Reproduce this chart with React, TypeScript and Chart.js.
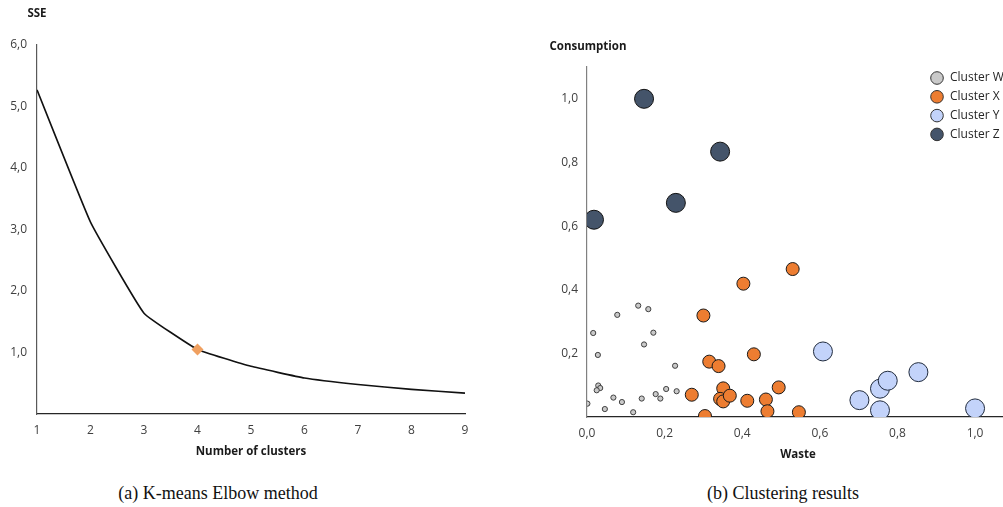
import React, { useEffect, useRef } from "react";
import { Chart, registerables } from "chart.js";

Chart.register(...registerables);

// ---- Elbow data ----
const clusterCounts = [1, 2, 3, 4, 5, 6, 7, 8, 9];
const sseValues = [5.27, 3.12, 1.64, 1.05, 0.775, 0.585, 0.48, 0.4, 0.34];
const elbowIndex = 3;

// ---- Clustering data ----
const clusterLabels = ["Cluster W", "Cluster X", "Cluster Y", "Cluster Z"];
const wWaste = [0.016, 0.078, 0.132, 0.158, 0.171, 0.147, 0.028, 0.227, 0.029, 0.034, 0.025, 0.001, 0.046, 0.068, 0.09, 0.119, 0.141, 0.177, 0.189, 0.204, 0.231];
const wCons = [0.264, 0.321, 0.35, 0.339, 0.265, 0.228, 0.195, 0.161, 0.099, 0.091, 0.084, 0.042, 0.025, 0.061, 0.047, 0.015, 0.058, 0.072, 0.058, 0.088, 0.081];
const xWaste = [0.53, 0.403, 0.3, 0.43, 0.315, 0.339, 0.27, 0.351, 0.343, 0.351, 0.368, 0.413, 0.461, 0.494, 0.465, 0.546, 0.304];
const xCons = [0.465, 0.419, 0.319, 0.197, 0.174, 0.16, 0.07, 0.09, 0.057, 0.049, 0.067, 0.051, 0.055, 0.093, 0.018, 0.015, 0.003];
const yWaste = [0.608, 0.702, 0.755, 0.775, 0.755, 0.854, 1.0];
const yCons = [0.206, 0.053, 0.089, 0.114, 0.021, 0.141, 0.027];
const zWaste = [0.018, 0.147, 0.229, 0.343];
const zCons = [0.62, 1.0, 0.673, 0.834];

const clusterColors = ["#C9C9C9", "#ED7D31", "#C3D3FA", "#44546A"];
const clusterBorders = ["#404040", "#1a1a1a", "#1f2a3d", "#111111"];
const clusterRadii = [2.6, 6.5, 9.5, 9.5];

const FONT = "'Open Sans', 'Noto Sans', sans-serif";
const fmt = (v: number) => v.toFixed(1).replace(".", ",");

function zip(a: number[], b: number[]) {
  return a.map((x, i) => ({ x, y: b[i] }));
}

const titlesPlugin = (items: { text: string; x: number; y: number }[]) => ({
  id: "axisTitles",
  afterDraw(chart: any) {
    const ctx = chart.ctx;
    ctx.save();
    ctx.font = `bold 11.5px ${FONT}`;
    ctx.fillStyle = "#1a1a1a";
    ctx.textAlign = "center";
    ctx.textBaseline = "middle";
    items.forEach((it) => ctx.fillText(it.text, it.x, it.y));
    ctx.restore();
  },
});

const legendPlugin = {
  id: "customLegend",
  afterDraw(chart: any) {
    const ctx = chart.ctx;
    ctx.save();
    ctx.font = `12px ${FONT}`;
    ctx.textBaseline = "middle";
    ctx.textAlign = "left";
    chart.data.datasets.forEach((ds: any, i: number) => {
      const cy = 78 + i * 18.8;
      const cx = 437;
      ctx.beginPath();
      ctx.arc(cx, cy, 6.3, 0, Math.PI * 2);
      ctx.fillStyle = clusterColors[i];
      ctx.fill();
      ctx.lineWidth = 1;
      ctx.strokeStyle = "#333";
      ctx.stroke();
      ctx.fillStyle = "#262626";
      ctx.fillText(ds.label, 450, cy);
    });
    ctx.restore();
  },
};

const noPad = (s: any) => {
  s.paddingLeft = 0;
  s.paddingRight = 0;
};

export default function App() {
  const c1 = useRef<HTMLCanvasElement>(null);
  const c2 = useRef<HTMLCanvasElement>(null);

  useEffect(() => {
    const ch1 = new Chart(c1.current!, {
      type: "line",
      data: {
        datasets: [
          {
            data: zip(clusterCounts, sseValues),
            borderColor: "#111",
            borderWidth: 1.6,
            tension: 0.1,
            pointStyle: "rectRot",
            pointRadius: sseValues.map((_, i) => (i === elbowIndex ? 6 : 0)),
            pointBackgroundColor: "#F0A060",
            pointBorderColor: "#F0A060",
            pointBorderWidth: 0,
          },
        ],
      },
      options: {
        responsive: false,
        animation: false,
        devicePixelRatio: 1,
        layout: { autoPadding: false, padding: { left: 0, top: 45, right: 25, bottom: 0 } },
        plugins: { legend: { display: false }, tooltip: { enabled: false } },
        scales: {
          x: {
            type: "linear",
            min: 1,
            max: 9,
            afterFit: (s: any) => { s.height = 56; noPad(s); },
            grid: { display: false, drawTicks: false },
            border: { display: true, color: "#262626", width: 1.2 },
            ticks: { stepSize: 1, padding: 9, color: "#404040", font: { family: FONT, size: 12 }, callback: (v: any) => String(v) },
          },
          y: {
            type: "linear",
            min: 0,
            max: 6,
            afterFit: (s: any) => { s.width = 37; },
            grid: { display: false, drawTicks: false },
            border: { display: true, color: "#595959", width: 1.2 },
            ticks: { stepSize: 1, padding: 10, color: "#404040", font: { family: FONT, size: 12 }, callback: (v: any) => (v === 0 ? "" : fmt(v)) },
          },
        },
      },
      plugins: [titlesPlugin([{ text: "SSE", x: 37, y: 14 }, { text: "Number of clusters", x: 251, y: 452 }])],
    } as any);

    const ch2 = new Chart(c2.current!, {
      type: "scatter",
      data: {
        datasets: [
          [wWaste, wCons],
          [xWaste, xCons],
          [yWaste, yCons],
          [zWaste, zCons],
        ].map((d, i) => ({
          label: clusterLabels[i],
          data: zip(d[0], d[1]),
          pointRadius: clusterRadii[i],
          pointBackgroundColor: clusterColors[i],
          pointBorderColor: clusterBorders[i],
          pointBorderWidth: 1,
          clip: 0,
        })),
      },
      options: {
        responsive: false,
        animation: false,
        devicePixelRatio: 1,
        layout: { autoPadding: false, padding: { left: 0, top: 67, right: 0, bottom: 0 } },
        plugins: { legend: { display: false }, tooltip: { enabled: false } },
        scales: {
          x: {
            type: "linear",
            min: 0,
            max: 1.072,
            afterFit: (s: any) => { s.height = 53; noPad(s); },
            grid: { display: false, drawTicks: false },
            border: { display: true, color: "#262626", width: 1.2 },
            ticks: { stepSize: 0.2, includeBounds: false, padding: 9, color: "#404040", font: { family: FONT, size: 12 }, callback: (v: any) => fmt(v) },
          },
          y: {
            type: "linear",
            min: 0,
            max: 1.1,
            afterFit: (s: any) => { s.width = 87; },
            grid: { display: false, drawTicks: false },
            border: { display: true, color: "#808080", width: 1.2 },
            ticks: { stepSize: 0.2, includeBounds: false, padding: 9, color: "#404040", font: { family: FONT, size: 12 }, callback: (v: any) => (Math.abs(v) < 1e-9 ? "" : fmt(v)) },
          },
        },
      },
      plugins: [titlesPlugin([{ text: "Consumption", x: 88, y: 47 }, { text: "Waste", x: 298, y: 455 }]), legendPlugin],
    } as any);

    return () => {
      ch1.destroy();
      ch2.destroy();
    };
  }, []);

  const caption: React.CSSProperties = {
    position: "absolute",
    top: 480,
    fontFamily: "'Liberation Serif', 'DejaVu Serif', serif",
    fontSize: 18,
    color: "#111",
    whiteSpace: "nowrap",
    textAlign: "center",
    lineHeight: "26px",
  };

  return (
    <div style={{ position: "fixed", left: 0, top: 0, width: 1003, height: 507, background: "#fff", overflow: "hidden" }}>
      <canvas ref={c1} width={490} height={470} style={{ position: "absolute", left: 0, top: 0, width: 490, height: 470 }} />
      <canvas ref={c2} width={503} height={470} style={{ position: "absolute", left: 500, top: 0, width: 503, height: 470 }} />
      <div style={{ ...caption, left: 18, width: 400 }}>(a) K-means Elbow method</div>
      <div style={{ ...caption, left: 583, width: 400 }}>(b) Clustering results</div>
    </div>
  );
}
